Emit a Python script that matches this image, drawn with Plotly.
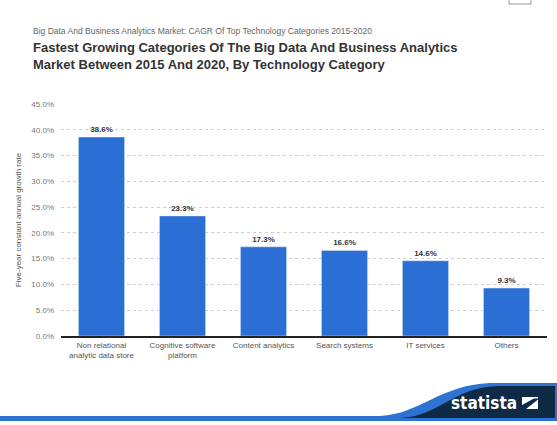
import plotly.graph_objects as go

categories = ["Non relational<br>analytic data store", "Cognitive software<br>platform",
              "Content analytics", "Search systems", "IT services", "Others"]
growth = [38.6, 23.3, 17.3, 16.6, 14.6, 9.3]
labels = [f"{v:.1f}%" for v in growth]

W, H = 557, 425
L, R, T, B = 61, 10, 104, 89
pw, ph = W - L - R, H - T - B

def px(x, y):
    return (x - L) / pw, (H - B - y) / ph

def pt(a, b):
    X, Y = px(a, b)
    return f"{X:.4f},{Y:.4f}"

def path(points, close=True):
    s = ""
    for cmd, pts in points:
        if cmd == "C":
            s += "C " + " ".join(pt(a, b) for a, b in pts) + " "
        else:
            for a, b in pts:
                s += f"{cmd} {pt(a, b)} "
    return s + ("Z" if close else "")

font = "Liberation Sans, Arial, sans-serif"

fig = go.Figure(go.Bar(
    x=categories, y=growth, text=labels, textposition="outside",
    textfont=dict(size=8, color="#333", family=font, weight="bold"),
    marker=dict(color="#2b6fd5"), cliponaxis=False,
))

blue_path = path([("M", [(0, 416)]), ("L", [(380, 416)]),
                  ("C", [(420, 414), (440, 385), (490, 383)]),
                  ("L", [(557, 383), (557, 421), (0, 421)])])
navy_path = path([("M", [(400, 418)]),
                  ("C", [(440, 416), (452, 388), (497, 386)]),
                  ("L", [(555, 386), (555, 418)])])

fig.update_layout(
    width=W, height=H,
    margin=dict(l=L, r=R, t=T, b=B),
    paper_bgcolor="white", plot_bgcolor="white",
    font=dict(family=font, color="#555"),
    bargap=0.43, showlegend=False,
    xaxis=dict(showline=True, linecolor="#222", linewidth=2, ticks="",
               tickfont=dict(size=8, color="#555")),
    yaxis=dict(range=[0, 45], dtick=5, tickformat=".1f", ticksuffix="%",
               showgrid=True, gridcolor="#cfcfcf", griddash="dot", zeroline=False,
               tickfont=dict(size=8, color="#777"), ticklabelstandoff=6,
               title=dict(text="Five-year constant annual growth rate",
                          font=dict(size=8, color="#555"), standoff=8)),
    shapes=[
        dict(type="path", xref="paper", yref="paper", path=blue_path,
             fillcolor="#2e73d3", line=dict(width=0), layer="above"),
        dict(type="path", xref="paper", yref="paper", path=navy_path,
             fillcolor="#0f2a45", line=dict(width=0), layer="above"),
        dict(type="rect", xref="paper", yref="paper",
             x0=px(509, 0)[0], x1=px(531, 0)[0], y0=px(0, 4)[1], y1=px(0, -2)[1],
             line=dict(color="#999", width=1), fillcolor="white"),
        dict(type="path", xref="paper", yref="paper",
             path=path([("M", [(522, 397)]), ("L", [(538, 397), (538, 409), (522, 409)])]),
             fillcolor="white", line=dict(width=0), layer="above"),
        dict(type="path", xref="paper", yref="paper",
             path=path([("M", [(522, 405)]), ("L", [(534, 398.5), (538, 398.5), (538, 399.5), (526, 409), (522, 409)])]),
             fillcolor="#0f2a45", line=dict(width=0), layer="above"),
    ],
    annotations=[
        dict(text="Big Data And Business Analytics Market: CAGR Of Top Technology Categories 2015-2020",
             xref="paper", yref="paper", x=px(31, 0)[0], y=px(0, 31)[1],
             xanchor="left", yanchor="middle", showarrow=False,
             font=dict(size=8.5, color="#666")),
        dict(text="<b>Fastest Growing Categories Of The Big Data And Business Analytics<br>Market Between 2015 And 2020, By Technology Category</b>",
             xref="paper", yref="paper", x=px(31, 0)[0], y=px(0, 56)[1],
             xanchor="left", yanchor="middle", align="left", showarrow=False,
             font=dict(size=13, color="#333")),
        dict(text="<b>statista</b>", xref="paper", yref="paper",
             x=px(519, 0)[0], y=px(0, 403)[1], xanchor="right", yanchor="middle",
             showarrow=False,
             font=dict(size=17, color="white", family="DejaVu Sans Condensed, Liberation Sans, sans-serif")),
    ],
)

fig.write_html("out.html", config={"displayModeBar": False},
               post_script="document.body.style.margin='0';document.body.style.overflow='hidden';")
